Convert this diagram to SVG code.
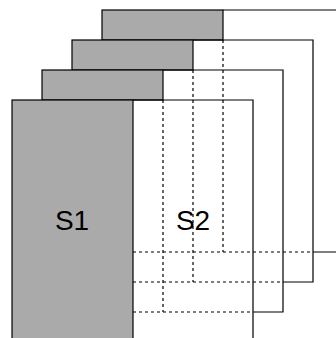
<svg xmlns="http://www.w3.org/2000/svg" width="336" height="338" viewBox="0 0 336 338">
<style>
.g{fill:#aaaaaa;stroke:#000;stroke-width:1.2}
.s{fill:none;stroke:#000;stroke-width:1.2}
.d{fill:none;stroke:#000;stroke-width:1.2;stroke-dasharray:3 3}
text{font-family:"Liberation Sans",Arial,sans-serif;font-size:28px;fill:#000;text-anchor:middle}
</style>
<rect width="336" height="338" fill="#fff"/>
<g id="layer4">
<path class="d" d="M223 40V252M133 252H313"/>
<rect class="g" x="102" y="10" width="121" height="30"/>
<path class="s" d="M223 10H336M313 252H336"/>
</g>
<g id="layer3">
<path class="d" d="M193 70V282M133 282H283"/>
<rect class="g" x="72" y="40" width="121" height="30"/>
<path class="s" d="M193 40H313V282H283"/>
</g>
<g id="layer2">
<path class="d" d="M163 100V312M133 312H253"/>
<rect class="g" x="42" y="70" width="121" height="30"/>
<path class="s" d="M163 70H283V312H253"/>
</g>
<g id="layer1">
<rect class="g" x="12" y="100" width="121" height="250"/>
<path class="s" d="M133 100H253V338"/>
<text x="72" y="230">S1</text>
<text x="193" y="230">S2</text>
</g>
</svg>
